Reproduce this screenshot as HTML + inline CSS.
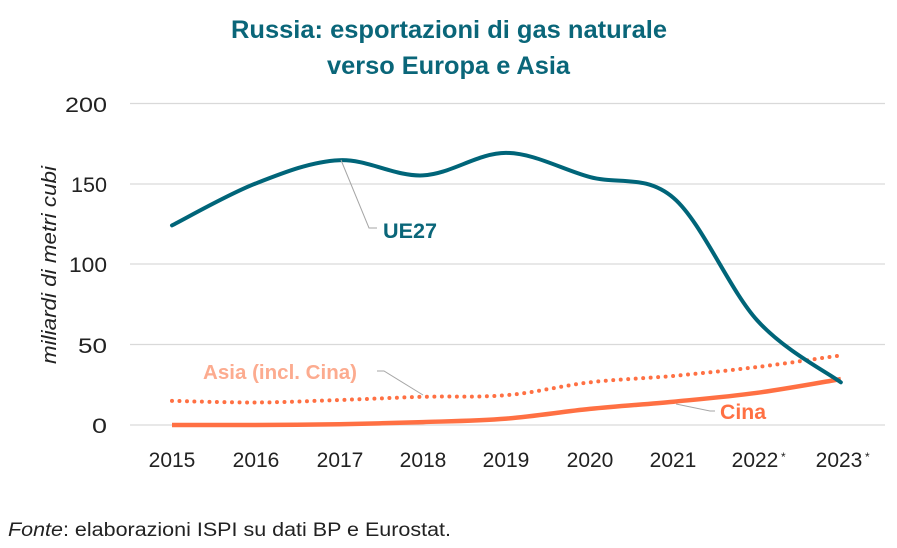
<!DOCTYPE html>
<html>
<head>
<meta charset="utf-8">
<style>
html,body{margin:0;padding:0;background:#fff;}
body{width:897px;height:548px;overflow:hidden;}
svg{display:block;}
text{font-family:"Liberation Sans",sans-serif;}
</style>
</head>
<body>
<svg id="c" width="897" height="548" viewBox="0 0 897 548" xmlns="http://www.w3.org/2000/svg">
  <rect width="897" height="548" fill="#fff"/>
  <!-- title -->
  <text x="231" y="38" font-size="25" font-weight="bold" fill="#0a6679" textLength="436" lengthAdjust="spacingAndGlyphs">Russia: esportazioni di gas naturale</text>
  <text x="327" y="74" font-size="25" font-weight="bold" fill="#0a6679" textLength="243" lengthAdjust="spacingAndGlyphs">verso Europa e Asia</text>

  <!-- gridlines -->
  <g stroke="#d9d9d9" stroke-width="1.2">
    <line x1="130" y1="103.5" x2="885" y2="103.5"/>
    <line x1="130" y1="184" x2="885" y2="184"/>
    <line x1="130" y1="264" x2="885" y2="264"/>
    <line x1="130" y1="344.5" x2="885" y2="344.5"/>
    <line x1="130" y1="425" x2="885" y2="425"/>
  </g>

  <!-- y tick labels -->
  <g font-size="21" fill="#222" text-anchor="end">
    <text x="107" y="112" textLength="42" lengthAdjust="spacingAndGlyphs">200</text>
    <text x="107" y="192" textLength="36" lengthAdjust="spacingAndGlyphs">150</text>
    <text x="107" y="272" textLength="38" lengthAdjust="spacingAndGlyphs">100</text>
    <text x="107" y="353" textLength="29" lengthAdjust="spacingAndGlyphs">50</text>
    <text x="107" y="433" textLength="15" lengthAdjust="spacingAndGlyphs">0</text>
  </g>

  <!-- y axis title -->
  <text transform="translate(56,364) rotate(-90)" font-size="20" font-style="italic" fill="#222" textLength="198" lengthAdjust="spacingAndGlyphs">miliardi di metri cubi</text>

  <!-- x labels -->
  <g font-size="21" fill="#222" text-anchor="middle">
    <text x="172" y="467">2015</text>
    <text x="256" y="467">2016</text>
    <text x="340" y="467">2017</text>
    <text x="423" y="467">2018</text>
    <text x="506" y="467">2019</text>
    <text x="590" y="467">2020</text>
    <text x="673" y="467">2021</text>
    <text x="755" y="467">2022</text>
    <text x="839" y="467">2023</text>
  </g>
  <g font-size="12" fill="#222">
    <text x="781" y="461">*</text>
    <text x="865" y="461">*</text>
  </g>

  <!-- series -->
  <path id="cina" fill="none" stroke="#ff7043" stroke-width="4.5" stroke-linecap="butt"/>
  <path id="asia" fill="none" stroke="#ff7043" stroke-width="4" stroke-linecap="round" stroke-dasharray="0 7.5"/>
  <path id="ue" fill="none" stroke="#006579" stroke-width="4" stroke-linecap="round"/>

  <!-- leader lines -->
  <g stroke="#a6a6a6" stroke-width="1" fill="none">
    <polyline points="341,160 369,228 377,228"/>
    <polyline points="423,395 384,371 377,371"/>
    <polyline points="676,404 710,411 715,411"/>
  </g>

  <!-- annotations -->
  <text x="383" y="238" font-size="21" font-weight="bold" fill="#0a6679" textLength="54" lengthAdjust="spacingAndGlyphs">UE27</text>
  <text x="203" y="379" font-size="20" font-weight="bold" fill="#fcab8f" textLength="154" lengthAdjust="spacingAndGlyphs">Asia (incl. Cina)</text>
  <text x="720" y="419" font-size="21" font-weight="bold" fill="#ff7043" textLength="46" lengthAdjust="spacingAndGlyphs">Cina</text>

  <!-- footer -->
  <text x="8" y="536" font-size="19" fill="#222" textLength="443" lengthAdjust="spacingAndGlyphs"><tspan font-style="italic">Fonte</tspan>: elaborazioni ISPI su dati BP e Eurostat.</text>
</svg>
<script>
(function(){
  function xs(i){return 172 + 83.6*i;}
  function ys(v){return 425 - v*1.61;}
  function path(vals, xEnd){
    var p = vals.map(function(v,i){return [xs(i), ys(v)];});
    if (xEnd) p[p.length-1][0] = xEnd;
    var d = "M" + p[0][0].toFixed(1) + "," + p[0][1].toFixed(1);
    for (var i=0;i<p.length-1;i++){
      var p0 = p[i-1]||p[i], p1=p[i], p2=p[i+1], p3=p[i+2]||p[i+1];
      var c1x = p1[0] + (p2[0]-p0[0])/6, c1y = p1[1] + (p2[1]-p0[1])/6;
      var c2x = p2[0] - (p3[0]-p1[0])/6, c2y = p2[1] - (p3[1]-p1[1])/6;
      d += " C" + c1x.toFixed(1)+","+c1y.toFixed(1)+" "+c2x.toFixed(1)+","+c2y.toFixed(1)+" "+p2[0].toFixed(1)+","+p2[1].toFixed(1);
    }
    return d;
  }
  document.getElementById("ue").setAttribute("d", path([124,150,164.5,155,169,154,141,65,26.5]));
  document.getElementById("asia").setAttribute("d", path([15,14,15.5,17.5,18.5,26.5,30.5,36,43], 838));
  document.getElementById("cina").setAttribute("d", path([0,0,0.5,1.8,4,10,14.5,20,28.5]));
})();
</script>
</body>
</html>
